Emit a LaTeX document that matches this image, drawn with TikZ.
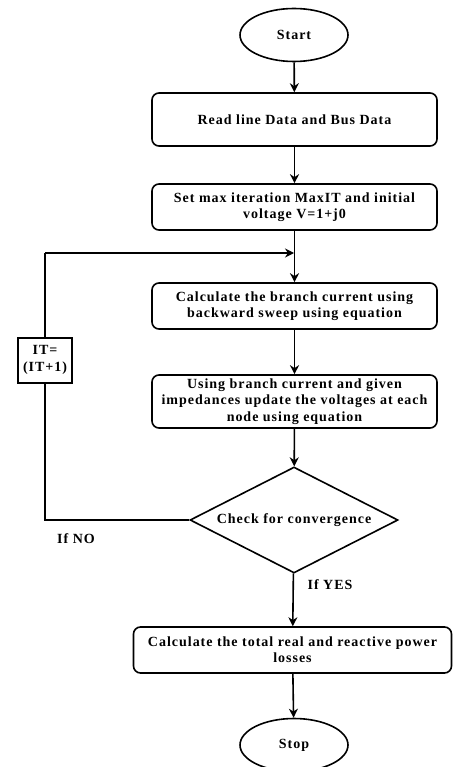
\documentclass[tikz,border=0pt]{standalone}
\usepackage{fontspec}
\setmainfont{Liberation Serif}[LetterSpace=7]
\usetikzlibrary{shapes.geometric,arrows.meta}
\begin{document}
\begin{tikzpicture}[x=1pt,y=-1pt,
  every node/.style={font=\fontsize{14}{16.3}\selectfont\bfseries, align=center, inner sep=0pt},
  proc/.style={draw, line width=1.6pt, rounded corners=7pt, minimum height=46pt},
  term/.style={draw, ellipse, line width=1.6pt, minimum width=108pt, minimum height=53pt},
  dec/.style={draw, diamond, line width=1.6pt, minimum width=208pt, minimum height=106pt, aspect=2},
  conn/.style={line width=1.6pt, -{Stealth[length=9pt,width=9pt]}}]
\useasboundingbox (0,0) rectangle (452,767);
\node[term] (start) at (294,35) {Start};
\node[proc, minimum width=285pt, minimum height=53pt] (read) at (294.5,119.5) {Read line Data and Bus Data};
\node[proc, minimum width=285pt] (set) at (294.5,207) {Set max iteration MaxIT and initial\\voltage V=1+j0};
\node[proc, minimum width=285pt] (calc) at (294.5,306) {Calculate the branch current using\\backward sweep using equation};
\node[proc, minimum width=285pt, minimum height=53pt] (upd) at (294.5,401.5) {Using branch current and given\\impedances update the voltages at each\\node using equation};
\node[dec] (chk) at (294,520) {Check for convergence};
\node[proc, minimum width=318pt] (loss) at (292.5,650) {Calculate the total real and reactive power\\losses};
\node[term] (stop) at (294,745) {Stop};
\coordinate (j) at (294,253);
\coordinate (lc) at (45,520);
\coordinate (tc) at (45,253);
\draw[conn] (start) -- (read);
\draw[conn] (read) -- (set);
\draw[conn] (set) -- (calc);
\draw[conn] (calc) -- (upd);
\draw[conn] (upd) -- (chk);
\draw[conn] (chk) -- (loss);
\draw[conn] (loss) -- (stop);
\draw[line width=1.6pt] (chk.west) -- (lc) -- (tc);
\draw[conn] (tc) -- (j);
\node[draw, fill=white, line width=2pt, minimum width=54pt, minimum height=45pt] (it) at (45,360) {IT=\\(IT+1)};
\node (no) at (76,539) {If NO};
\node (yes) at (330,585) {If YES};
\end{tikzpicture}
\end{document}
